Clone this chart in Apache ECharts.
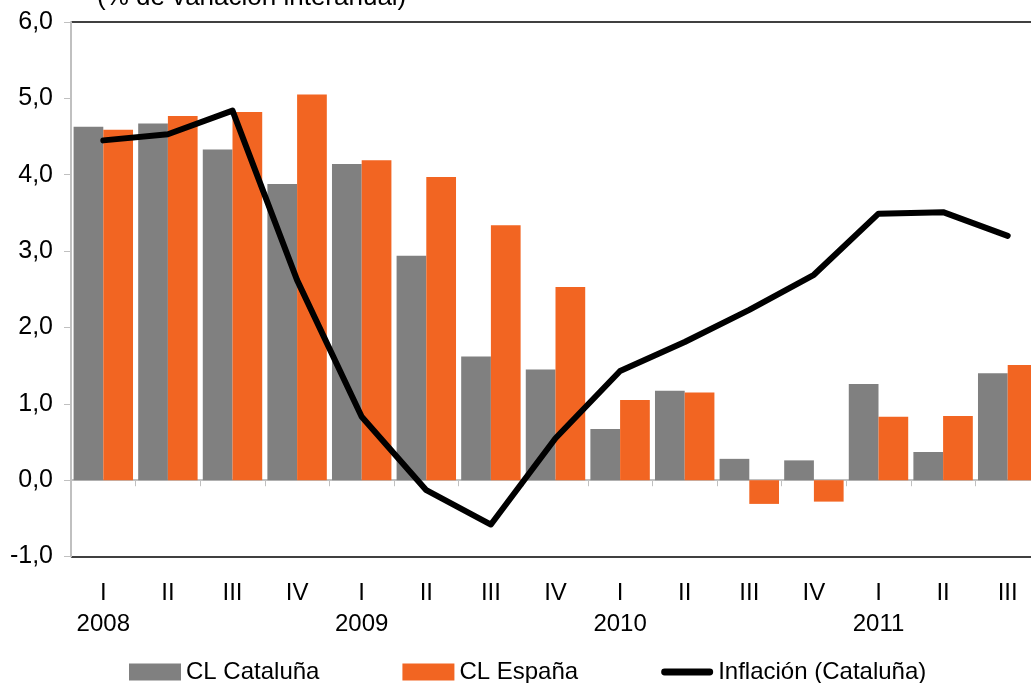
<!DOCTYPE html>
<html>
<head>
<meta charset="utf-8">
<script src="https://cdn.jsdelivr.net/npm/echarts@6/dist/echarts.min.js"></script>
<style>
    html, body { margin: 0; padding: 0; background: #fff; }
    #chart { width: 1031px; height: 683px; }
</style>
</head>
<body>
<div id="chart"></div>
<script>
    var quarters = ['I', 'II', 'III', 'IV', 'I', 'II', 'III', 'IV', 'I', 'II', 'III', 'IV', 'I', 'II', 'III'];
    var years = ['2008', '2009', '2010', '2011'];
    var clCataluna = [4.63, 4.67, 4.33, 3.88, 4.14, 2.94, 1.62, 1.45, 0.67, 1.17, 0.28, 0.26, 1.26, 0.37, 1.40];
    var clEspana = [4.59, 4.77, 4.82, 5.05, 4.19, 3.97, 3.34, 2.53, 1.05, 1.15, -0.31, -0.28, 0.83, 0.84, 1.51];
    var inflacion = [4.45, 4.53, 4.84, 2.62, 0.83, -0.13, -0.58, 0.55, 1.43, 1.81, 2.23, 2.69, 3.49, 3.51, 3.20];

    var font = "'Liberation Sans', Arial, sans-serif";
    var chart = echarts.init(document.getElementById('chart'));

    // black lines only at the top (6,0) and bottom (-1,0)
    var splitColors = ['#000'];
    for (var i = 0; i < 6; i++) {
        splitColors.push('rgba(0,0,0,0)');
    }
    splitColors.push('#000');

    var option = {
        backgroundColor: '#fff',
        animation: false,
        textStyle: { fontFamily: font },
        graphic: [{
            type: 'text',
            left: 97,
            top: -15,
            style: {
                text: '(% de variación interanual)',
                font: '26px ' + font,
                fill: '#000'
            }
        }],
        legend: {
            left: 124,
            top: 655,
            itemWidth: 52,
            itemHeight: 17,
            itemGap: 83,
            textStyle: { fontSize: 24, color: '#000', fontFamily: font },
            data: [
                { name: 'CL Cataluña', icon: 'rect' },
                { name: 'CL España', icon: 'rect' },
                { name: 'Inflación (Cataluña)', icon: 'path://M4,0 L56,0 A4,4 0 0 1 56,8 L4,8 A4,4 0 0 1 4,0 Z' }
            ]
        },
        grid: {
            left: 71,
            top: 22,
            width: 969,
            height: 534.6,
            containLabel: false,
            outerBoundsMode: 'none'
        },
        xAxis: {
            type: 'category',
            data: quarters,
            axisLine: { onZero: true, lineStyle: { color: '#c0c0c0', width: 2 } },
            axisTick: { show: true, length: 6, lineStyle: { color: '#c0c0c0', width: 1 } },
            axisLabel: {
                interval: 0,
                margin: 21,
                fontSize: 24,
                lineHeight: 31,
                color: '#000',
                fontFamily: font,
                formatter: function (v, idx) {
                    return idx % 4 === 0 ? v + '\n' + years[idx / 4] : v;
                }
            }
        },
        yAxis: {
            type: 'value',
            min: -1,
            max: 6,
            interval: 1,
            axisLine: { show: true, lineStyle: { color: '#c0c0c0', width: 2 } },
            axisTick: { show: true, length: 7, lineStyle: { color: '#c0c0c0' } },
            axisLabel: {
                margin: 18,
                fontSize: 25,
                color: '#000',
                fontFamily: font,
                formatter: function (v) {
                    return v.toFixed(1).replace('.', ',');
                }
            },
            splitLine: {
                show: true,
                lineStyle: { color: splitColors, width: 1.5 }
            }
        },
        series: [
            {
                name: 'CL Cataluña',
                type: 'bar',
                barGap: '0%',
                barCategoryGap: '8%',
                itemStyle: { color: '#808080' },
                data: clCataluna
            },
            {
                name: 'CL España',
                type: 'bar',
                itemStyle: { color: '#f26522' },
                data: clEspana
            },
            {
                name: 'Inflación (Cataluña)',
                type: 'line',
                symbol: 'none',
                lineStyle: { color: '#000', width: 6, cap: 'round', join: 'round' },
                itemStyle: { color: '#000' },
                z: 5,
                data: inflacion
            }
        ]
    };

    chart.setOption(option);
</script>
</body>
</html>
